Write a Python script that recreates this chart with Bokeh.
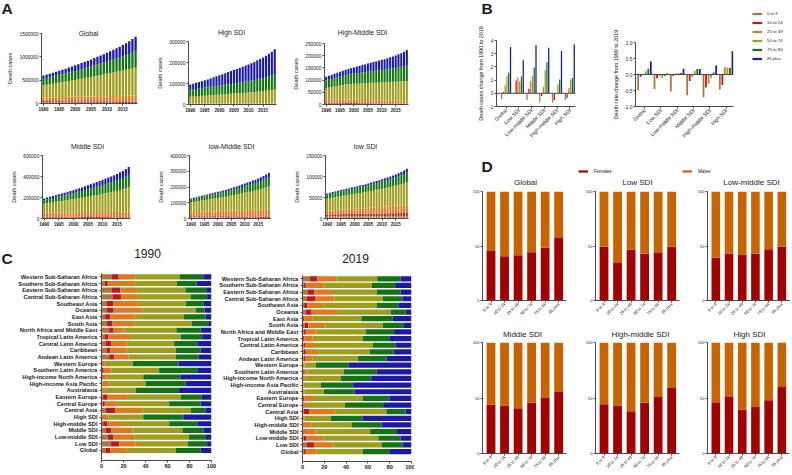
import math
from bokeh.plotting import figure
from bokeh.layouts import row, column
from bokeh.models import (ColumnDataSource, Range1d, FixedTicker, Label, Legend,
                          LegendItem, Span, NumeralTickFormatter)
from bokeh.transform import dodge
from bokeh.embed import file_html
from bokeh.resources import INLINE

FONT = "Liberation Sans"
AXC = "#4a4a4a"
TXT = "#1a1a1a"
NAN = float("nan")

# ---------------- common categories ----------------
age_groups = ["0 to 9", "10 to 24", "25 to 49", "50 to 74", "75 to 84", "85 plus"]
age_colors = ["#A8783C", "#C0161E", "#E0781E", "#9E9E1E", "#147414", "#1A1AA2"]
years = list(range(1990, 2020))
year_ticks = [1990, 1995, 2000, 2005, 2010, 2015]

# ---------------- Panel A: death cases (thousands) by age group ----------------
a_global = [
    [21, 21, 21, 20, 20, 20, 19, 19, 19, 18, 18, 18, 17, 17, 17, 16, 16, 16, 15, 15, 15, 14, 14, 14, 13, 13, 13, 12, 12, 12],
    [30, 30, 30, 30, 30, 31, 31, 31, 31, 31, 31, 31, 32, 32, 32, 32, 32, 32, 32, 32, 33, 33, 33, 33, 33, 33, 33, 33, 33, 33],
    [80, 82, 83, 85, 86, 88, 89, 91, 92, 94, 95, 97, 98, 100, 101, 103, 104, 106, 107, 109, 110, 112, 113, 115, 116, 118, 120, 122, 125, 128],
    [260, 270, 280, 290, 300, 310, 320, 330, 340, 351, 362, 373, 384, 395, 406, 418, 430, 442, 454, 466, 479, 492, 505, 518, 531, 545, 559, 573, 587, 600],
    [140, 145, 150, 155, 160, 165, 170, 175, 181, 187, 193, 199, 205, 211, 217, 224, 231, 238, 245, 252, 259, 266, 274, 282, 290, 299, 310, 323, 338, 355],
    [68, 72, 76, 80, 85, 90, 95, 100, 106, 112, 118, 124, 131, 138, 145, 152, 160, 168, 176, 184, 193, 202, 211, 221, 232, 244, 257, 271, 287, 305],
]
a_high = [
    [0.6, 0.6, 0.6, 0.6, 0.6, 0.5, 0.5, 0.5, 0.5, 0.5, 0.5, 0.5, 0.5, 0.4, 0.4, 0.4, 0.4, 0.4, 0.4, 0.4, 0.4, 0.4, 0.3, 0.3, 0.3, 0.3, 0.3, 0.3, 0.3, 0.3],
    [1.0, 1.0, 1.0, 1.0, 0.9, 0.9, 0.9, 0.9, 0.9, 0.9, 0.8, 0.8, 0.8, 0.8, 0.8, 0.8, 0.8, 0.7, 0.7, 0.7, 0.7, 0.7, 0.7, 0.7, 0.7, 0.7, 0.6, 0.6, 0.6, 0.6],
    [2.5, 2.5, 2.6, 2.6, 2.7, 2.7, 2.7, 2.8, 2.8, 2.8, 2.9, 2.9, 2.9, 3.0, 3.0, 3.0, 3.1, 3.1, 3.1, 3.2, 3.2, 3.2, 3.3, 3.3, 3.3, 3.4, 3.4, 3.4, 3.5, 3.5],
    [33, 34, 35, 36, 37, 38, 39, 40, 41, 42, 43, 44, 45, 46, 47, 48, 49, 50, 51, 52, 53, 54, 55, 57, 58, 60, 61, 63, 65, 67],
    [33, 34, 35, 36, 37, 38, 39, 40, 41, 42, 43, 44, 45, 46, 47, 48, 49, 50, 52, 53, 54, 56, 57, 59, 60, 62, 64, 66, 68, 71],
    [25, 27, 29, 31, 33, 35, 37, 40, 43, 46, 49, 52, 55, 58, 61, 64, 67, 70, 73, 76, 79, 82, 86, 90, 94, 98, 103, 108, 114, 121],
]
a_high_middle = [
    [3.2, 3.1, 3.0, 2.9, 2.8, 2.7, 2.6, 2.5, 2.4, 2.3, 2.2, 2.1, 2.0, 1.9, 1.8, 1.8, 1.7, 1.6, 1.6, 1.5, 1.5, 1.4, 1.4, 1.3, 1.3, 1.2, 1.2, 1.1, 1.1, 1.0],
    [4.5, 4.5, 4.4, 4.4, 4.3, 4.2, 4.1, 4.0, 3.9, 3.8, 3.7, 3.6, 3.5, 3.4, 3.3, 3.2, 3.1, 3.0, 2.9, 2.9, 2.8, 2.7, 2.7, 2.6, 2.6, 2.5, 2.5, 2.4, 2.4, 2.3],
    [12.0, 12.3, 12.6, 12.9, 13.1, 13.3, 13.5, 13.6, 13.7, 13.7, 13.7, 13.6, 13.5, 13.4, 13.3, 13.2, 13.0, 12.9, 12.8, 12.7, 12.6, 12.5, 12.4, 12.3, 12.2, 12.1, 12.0, 11.9, 11.9, 11.8],
    [48, 50, 52, 54, 56, 58, 60, 62, 63, 64, 65, 66, 67, 68, 69, 70, 71, 72, 72, 73, 74, 74, 75, 76, 77, 77, 78, 79, 80, 81],
    [31, 32, 33, 34, 35, 36, 37, 38, 39, 40, 41, 42, 43, 44, 45, 46, 47, 48, 49, 50, 51, 52, 53, 54, 55, 57, 58, 60, 62, 64],
    [15, 16, 17, 18, 19, 20, 21, 22, 24, 25, 26, 28, 29, 31, 32, 34, 35, 37, 38, 40, 41, 43, 45, 47, 49, 51, 54, 56, 59, 63],
]
a_middle = [
    [8.5, 8.3, 8.1, 7.9, 7.7, 7.5, 7.3, 7.1, 6.9, 6.7, 6.5, 6.3, 6.1, 5.9, 5.7, 5.5, 5.3, 5.1, 4.9, 4.7, 4.5, 4.3, 4.1, 3.9, 3.7, 3.6, 3.4, 3.3, 3.1, 3.0],
    [11.0, 11.0, 11.0, 10.9, 10.9, 10.8, 10.8, 10.7, 10.6, 10.5, 10.4, 10.3, 10.2, 10.1, 10.0, 9.9, 9.8, 9.7, 9.6, 9.5, 9.4, 9.3, 9.2, 9.1, 9.0, 9.0, 8.9, 8.9, 8.8, 8.8],
    [35, 36, 37, 38, 39, 40, 40, 41, 42, 43, 43, 44, 45, 45, 46, 46, 47, 47, 48, 48, 49, 49, 49, 50, 50, 50, 51, 51, 52, 52],
    [85, 89, 93, 97, 101, 105, 109, 113, 117, 121, 125, 129, 133, 137, 142, 147, 152, 157, 162, 167, 172, 178, 184, 190, 196, 202, 209, 216, 225, 234],
    [35, 37, 39, 41, 43, 45, 47, 49, 51, 53, 55, 57, 60, 63, 66, 69, 72, 75, 78, 81, 84, 87, 90, 93, 96, 99, 103, 107, 112, 117],
    [17, 18, 19, 20, 21, 22, 23, 24, 25, 27, 29, 31, 33, 35, 37, 39, 41, 43, 45, 47, 49, 51, 53, 55, 58, 61, 64, 67, 71, 76],
]
a_low_middle = [
    [7.5, 7.4, 7.3, 7.2, 7.1, 7.0, 6.9, 6.7, 6.5, 6.3, 6.1, 5.9, 5.7, 5.5, 5.3, 5.1, 4.9, 4.8, 4.7, 4.6, 4.5, 4.4, 4.3, 4.2, 4.1, 4.0, 3.9, 3.8, 3.7, 3.6],
    [7.0, 7.1, 7.2, 7.3, 7.4, 7.5, 7.6, 7.7, 7.8, 7.9, 8.0, 8.1, 8.2, 8.2, 8.3, 8.3, 8.4, 8.4, 8.5, 8.5, 8.6, 8.6, 8.7, 8.7, 8.8, 8.8, 8.9, 8.9, 9.0, 9.0],
    [24, 25, 26, 27, 28, 29, 30, 31, 32, 32, 33, 34, 35, 35, 36, 37, 38, 38, 39, 40, 40, 41, 41, 42, 42, 43, 43, 44, 44, 45],
    [63, 65, 67, 69, 71, 73, 75, 77, 79, 81, 83, 85, 87, 89, 92, 95, 98, 101, 104, 107, 110, 113, 116, 119, 123, 127, 131, 135, 140, 146],
    [19, 20, 21, 22, 23, 24, 25, 26, 27, 28, 29, 30, 31, 32, 33, 34, 35, 36, 38, 40, 42, 44, 45, 47, 48, 50, 52, 54, 56, 58],
    [6.3, 6.6, 6.9, 7.2, 7.5, 7.9, 8.3, 8.7, 9.1, 9.5, 10.0, 10.5, 11.0, 11.6, 12.2, 12.8, 13.5, 14.2, 15.0, 15.8, 16.7, 17.6, 18.6, 19.6, 20.7, 21.9, 23.2, 24.6, 26.2, 28.0],
]
a_low = [
    [5.0, 5.1, 5.2, 5.2, 5.3, 5.3, 5.3, 5.4, 5.4, 5.4, 5.4, 5.4, 5.4, 5.3, 5.3, 5.3, 5.3, 5.2, 5.2, 5.2, 5.2, 5.1, 5.1, 5.1, 5.1, 5.0, 5.0, 5.0, 5.0, 5.0],
    [4.6, 4.7, 4.8, 4.9, 5.0, 5.1, 5.2, 5.3, 5.4, 5.5, 5.6, 5.7, 5.8, 5.9, 6.0, 6.1, 6.3, 6.4, 6.6, 6.7, 6.9, 7.0, 7.2, 7.3, 7.5, 7.7, 7.9, 8.1, 8.3, 8.5],
    [9.0, 9.3, 9.6, 9.9, 10.2, 10.5, 10.8, 11.1, 11.4, 11.7, 12.0, 12.3, 12.6, 12.9, 13.2, 13.6, 14.0, 14.4, 14.8, 15.2, 15.6, 16.0, 16.4, 16.8, 17.2, 17.7, 18.2, 18.7, 19.3, 20.0],
    [28.5, 29.2, 29.9, 30.6, 31.3, 32.0, 32.7, 33.4, 34.1, 34.8, 35.5, 36.2, 36.9, 37.6, 38.4, 39.2, 40.0, 40.8, 41.6, 42.4, 43.3, 44.2, 45.1, 46.0, 47.0, 48.0, 49.0, 50.0, 51.5, 53.0],
    [10.2, 10.5, 10.8, 11.1, 11.4, 11.7, 12.0, 12.3, 12.6, 12.9, 13.2, 13.5, 13.8, 14.1, 14.5, 14.9, 15.3, 15.7, 16.1, 16.5, 17.0, 17.5, 18.0, 18.5, 19.0, 19.6, 20.2, 20.9, 21.9, 23.0],
    [2.5, 2.6, 2.7, 2.8, 2.9, 3.0, 3.1, 3.2, 3.3, 3.4, 3.5, 3.6, 3.8, 4.0, 4.2, 4.4, 4.6, 4.8, 5.0, 5.2, 5.5, 5.8, 6.1, 6.4, 6.7, 7.0, 7.4, 7.8, 8.4, 9.0],
]

# ---------------- Panel B ----------------
b_regions = ["Global", "Low SDI", "Low-middle SDI", "Middle SDI", "High-middle SDI", "High SDI"]
b_case_change = [
    [-0.45, 0.10, 0.60, 1.30, 1.58, 3.50],
    [0.02, 0.97, 1.20, 0.90, 1.28, 2.50],
    [-0.50, 0.35, 0.95, 1.33, 1.95, 3.65],
    [-0.65, -0.20, 0.50, 1.75, 2.35, 3.45],
    [-0.72, -0.50, -0.02, 0.68, 1.05, 3.20],
    [-0.50, -0.35, 0.42, 1.05, 1.15, 3.72],
]
b_rate_change = [
    [-0.49, -0.07, -0.02, 0.10, 0.18, 0.41],
    [-0.45, -0.12, -0.05, -0.10, -0.05, 0.03],
    [-0.53, -0.05, 0.03, 0.05, 0.05, 0.18],
    [-0.65, -0.20, -0.08, 0.12, 0.17, 0.17],
    [-0.71, -0.41, -0.29, -0.10, 0.06, 0.28],
    [-0.47, -0.33, 0.23, 0.22, 0.21, 0.73],
]

# ---------------- Panel C: share (%) of deaths by age group ----------------
c_regions = ["Western Sub-Saharan Africa", "Southern Sub-Saharan Africa", "Eastern Sub-Saharan Africa",
             "Central Sub-Saharan Africa", "Southeast Asia", "Oceania", "East Asia", "South Asia",
             "North Africa and Middle East", "Tropical Latin America", "Central Latin America", "Caribbean",
             "Andean Latin America", "Western Europe", "Southern Latin America", "High-income North America",
             "High-income Asia Pacific", "Australasia", "Eastern Europe", "Central Europe", "Central Asia",
             "High SDI", "High-middle SDI", "Middle SDI", "Low-middle SDI", "Low SDI", "Global"]
c_1990 = [
    [9.6, 6.0, 15.0, 40.4, 21.5, 7.5], [2.7, 3.0, 24.0, 38.8, 18.0, 13.5], [9.0, 8.0, 14.5, 44.8, 18.9, 4.8],
    [10.0, 8.0, 15.0, 48.0, 15.0, 4.0], [5.0, 6.0, 22.0, 43.5, 16.5, 7.0], [5.0, 6.0, 26.0, 48.5, 8.2, 6.3],
    [3.3, 4.7, 22.0, 45.0, 19.5, 5.5], [5.0, 4.6, 20.4, 52.0, 15.0, 3.0], [7.0, 4.0, 9.0, 48.0, 22.0, 10.0],
    [2.7, 3.6, 19.7, 46.0, 19.5, 8.5], [3.6, 5.1, 14.3, 43.0, 21.0, 13.0], [4.5, 3.5, 15.0, 44.5, 22.5, 10.0],
    [7.0, 4.5, 13.2, 42.8, 21.0, 11.5], [0.6, 0.6, 1.8, 25.3, 41.7, 30.0], [0.4, 1.6, 7.3, 43.1, 34.6, 13.0],
    [0.4, 0.8, 4.5, 32.3, 34.0, 28.0], [0.3, 0.5, 6.2, 33.0, 36.5, 23.5], [0.3, 0.5, 3.1, 27.1, 39.5, 29.5],
    [1.5, 3.5, 19.0, 48.0, 19.0, 9.0], [1.0, 2.0, 10.3, 48.2, 28.5, 10.0], [4.0, 8.7, 24.3, 44.0, 13.5, 5.5],
    [0.4, 0.6, 5.3, 31.7, 36.4, 25.6], [1.5, 3.5, 12.8, 43.7, 25.5, 13.0], [3.6, 5.1, 19.6, 45.2, 19.5, 7.0],
    [5.7, 5.3, 19.0, 49.5, 15.5, 5.0], [8.7, 7.6, 14.7, 47.6, 17.4, 4.0], [3.6, 4.4, 15.0, 44.5, 22.5, 10.0],
]
c_2019 = [
    [6.6, 6.9, 17.5, 37.5, 21.5, 10.0], [0.9, 2.1, 16.5, 44.1, 21.4, 15.0], [4.5, 6.5, 16.0, 41.0, 22.0, 10.0],
    [4.0, 8.0, 17.4, 44.2, 18.0, 8.4], [1.5, 3.0, 14.5, 49.0, 20.0, 12.0], [3.0, 5.4, 24.0, 48.6, 13.6, 5.4],
    [0.6, 0.9, 7.5, 45.0, 28.6, 17.4], [2.0, 3.4, 15.6, 52.6, 18.9, 7.5], [1.2, 1.8, 9.0, 46.0, 26.0, 16.0],
    [0.6, 1.2, 7.2, 46.5, 24.1, 20.4], [0.9, 1.5, 9.0, 53.1, 21.1, 14.4], [1.2, 1.8, 11.4, 47.1, 22.0, 16.5],
    [1.2, 1.2, 6.6, 42.0, 26.0, 23.0], [0.3, 0.3, 1.2, 10.2, 30.0, 58.0], [0.3, 0.9, 3.3, 33.5, 30.0, 32.0],
    [0.3, 0.7, 2.0, 32.0, 28.0, 37.0], [0.2, 0.3, 0.5, 16.0, 29.5, 53.5], [0.3, 0.3, 1.2, 17.7, 28.5, 52.0],
    [0.6, 0.9, 9.0, 44.5, 24.6, 20.4], [0.3, 0.7, 3.2, 34.8, 35.0, 26.0], [1.0, 5.0, 23.4, 47.6, 17.6, 5.4],
    [0.3, 0.3, 1.4, 24.0, 29.0, 45.0], [0.4, 0.6, 6.5, 37.5, 27.6, 27.4], [1.0, 1.0, 11.0, 49.0, 24.0, 14.0],
    [1.2, 2.4, 15.9, 50.1, 20.4, 10.0], [4.0, 6.5, 18.0, 44.1, 19.0, 8.4], [1.0, 2.0, 9.6, 42.4, 24.6, 20.4],
]

# ---------------- Panel D: female share (%) by age group ----------------
sex_labels = ["Females", "Males"]
sex_colors = ["#A30000", "#C86400"]
d_global = [45.3, 40.7, 41.6, 44.3, 48.5, 57.3]
d_low = [49.4, 34.3, 46.5, 43.0, 43.6, 49.4]
d_low_middle = [39.2, 43.0, 42.2, 43.0, 47.0, 49.4]
d_middle = [44.0, 43.0, 40.8, 46.0, 50.0, 55.4]
d_high_middle = [44.3, 43.0, 38.0, 45.8, 51.0, 59.0]
d_high = [45.5, 51.0, 39.5, 42.0, 48.0, 60.0]


# ---------------- helpers ----------------
def base_fig(w, h, left, fw, top, fh, xr, yr):
    p = figure(width=w, height=h, x_range=xr, y_range=yr, output_backend="svg",
               toolbar_location=None, min_border_left=left, min_border_right=w - left - fw,
               min_border_top=top, min_border_bottom=h - top - fh, frame_align=False)
    p.outline_line_color = None
    p.xgrid.visible = False
    p.ygrid.visible = False
    p.background_fill_color = "white"
    p.border_fill_color = "white"
    for ax in p.axis:
        ax.axis_line_color = AXC
        ax.axis_line_width = 1
        ax.major_tick_line_color = AXC
        ax.major_tick_out = 2
        ax.major_tick_in = 0
        ax.minor_tick_line_color = None
        ax.major_label_text_font = FONT
        ax.major_label_text_color = TXT
        ax.major_label_standoff = 1
        ax.axis_label_text_font = FONT
        ax.axis_label_text_font_style = "normal"
        ax.axis_label_text_color = TXT
    return p


def blank_fig(w, h, left=0, top=0):
    p = figure(width=w, height=h, x_range=Range1d(0, 1), y_range=Range1d(0, 1),
               x_axis_type=None, y_axis_type=None, output_backend="svg",
               toolbar_location=None, min_border_left=left, min_border_top=top,
               min_border_right=0, min_border_bottom=0, frame_align=False)
    p.outline_line_color = None
    p.grid.visible = False
    p.background_fill_color = "white"
    p.border_fill_color = "white"
    return p


def add_text(p, x, y, text, size, bold=False, align="center"):
    # a side-panel label in canvas pixels, so that it is not clipped to the frame
    p.add_layout(Label(x=x, y=y, x_units="canvas", y_units="canvas", text=text,
                       text_font=FONT, text_font_size=size,
                       text_font_style="bold" if bold else "normal",
                       text_align=align, text_baseline="middle", text_color=TXT), "above")


def add_legend(p, labels, colors, glyph_h, size, standoff):
    # legend proxies: one non-drawn (NaN) point each, so only the legend swatch shows
    rs = [p.line(x=[NAN], y=[NAN], line_color=c, line_width=2.2) for c in colors]
    lg = Legend(items=[LegendItem(label=a, renderers=[r]) for a, r in zip(labels, rs)],
                location="top_left", orientation="vertical", glyph_width=10, glyph_height=glyph_h,
                label_height=glyph_h, spacing=0, padding=0, margin=0, label_standoff=standoff,
                border_line_color=None, background_fill_alpha=0,
                label_text_font=FONT, label_text_font_size=size, label_text_color=TXT)
    p.add_layout(lg)


def panel_a(title, data, ymax, yticks, w, h, left, fw, top, fh, tx, ty):
    p = base_fig(w, h, left, fw, top, fh, Range1d(1989.4, 2019.6), Range1d(0, ymax))
    cols = {"year": years}
    names = []
    for i, g in enumerate(data):
        cols[f"g{i}"] = [v * 1000 for v in g]
        names.append(f"g{i}")
    src = ColumnDataSource(cols)
    p.vbar_stack(names, x="year", width=0.72, fill_color=age_colors, line_color=None, source=src)
    p.xaxis.ticker = FixedTicker(ticks=year_ticks)
    p.xaxis.major_label_text_font_size = "4.5px"
    p.xaxis.major_label_text_font_style = "bold"
    p.yaxis.ticker = FixedTicker(ticks=yticks)
    p.yaxis.formatter = NumeralTickFormatter(format="0")
    p.yaxis.major_label_text_font_size = "4.9px"
    p.yaxis.axis_label = "Death cases"
    p.yaxis.axis_label_text_font_size = "5.7px"
    p.yaxis.axis_label_standoff = 3
    add_text(p, tx, ty, title, "6.8px")
    return p


def panel_b(values, ymin, ymax, yticks, fmt, ylabel, w, h, left, fw, top, fh, xr, step, bw):
    p = base_fig(w, h, left, fw, top, fh, Range1d(*xr), Range1d(ymin, ymax))
    cols = {"x": list(range(len(b_regions)))}
    for k in range(len(age_groups)):
        cols[f"g{k}"] = [values[r][k] for r in range(len(b_regions))]
    src = ColumnDataSource(cols)
    for k in range(len(age_groups)):
        off = (k - 2.5) * step
        p.vbar(x=dodge("x", off, range=p.x_range), top=f"g{k}", bottom=0, width=bw,
               fill_color=age_colors[k], line_color=None, source=src)
    p.add_layout(Span(location=0, dimension="width", line_color=AXC, line_width=1))
    p.xaxis.ticker = FixedTicker(ticks=list(range(len(b_regions))))
    p.xaxis.major_label_overrides = {i: r for i, r in enumerate(b_regions)}
    p.xaxis.major_label_orientation = math.pi / 4
    p.xaxis.major_label_text_font_size = "5.2px"
    p.yaxis.ticker = FixedTicker(ticks=yticks)
    p.yaxis.formatter = NumeralTickFormatter(format=fmt)
    p.yaxis.major_label_text_font_size = "4.8px"
    p.yaxis.axis_label = ylabel
    p.yaxis.axis_label_text_font_size = "5.4px"
    p.yaxis.axis_label_standoff = 2
    return p


def panel_c(shares, w, h, left, fw, top, fh):
    n = len(c_regions)
    p = base_fig(w, h, left, fw, top, fh, Range1d(0, 100), Range1d(-1.5, n - 0.5))
    cols = {"y": [n - 1 - i for i in range(n)]}
    names = []
    for k in range(len(age_groups)):
        cols[f"g{k}"] = [shares[i][k] for i in range(n)]
        names.append(f"g{k}")
    src = ColumnDataSource(cols)
    p.hbar_stack(names, y="y", height=0.78, fill_color=age_colors, line_color=None, source=src)
    p.xaxis.ticker = FixedTicker(ticks=[0, 20, 40, 60, 80, 100])
    p.xaxis.major_label_text_font_size = "5.6px"
    p.xaxis.major_label_text_font_style = "bold"
    p.yaxis.ticker = FixedTicker(ticks=list(range(n)))
    p.yaxis.major_label_overrides = {n - 1 - i: r for i, r in enumerate(c_regions)}
    p.yaxis.major_label_text_font_size = "5.7px"
    p.yaxis.major_label_text_font_style = "bold"
    p.yaxis.major_label_standoff = 2
    return p


def panel_d(title, females, w, h, left, fw, top, fh, tx, ty):
    p = base_fig(w, h, left, fw, top, fh, Range1d(-0.63, 5.58), Range1d(0, 100))
    src = ColumnDataSource(dict(x=list(range(len(age_groups))), f=females,
                                m=[100 - v for v in females]))
    p.vbar_stack(["f", "m"], x="x", width=0.65, fill_color=sex_colors, line_color=None, source=src)
    p.xaxis.ticker = FixedTicker(ticks=list(range(len(age_groups))))
    p.xaxis.major_label_overrides = {i: a for i, a in enumerate(age_groups)}
    p.xaxis.major_label_orientation = math.pi / 4
    p.xaxis.major_label_text_font_size = "4.2px"
    p.yaxis.ticker = FixedTicker(ticks=[0, 50, 100])
    p.yaxis.major_label_text_font_size = "4px"
    add_text(p, tx, ty, title, "8px")
    return p


# ---------------- Panel A ----------------
pa1 = panel_a("Global", a_global, 1500000, [0, 500000, 1000000, 1500000], 150, 128, 41, 96, 33, 70, 88, 33)
pa2 = panel_a("High SDI", a_high, 300000, [0, 100000, 200000, 300000], 140, 128, 38, 88, 41, 63, 81, 32)
pa3 = panel_a("High-Middle SDI", a_high_middle, 250000, [0, 50000, 100000, 150000, 200000, 250000], 124, 128, 33, 85, 43, 61, 72, 32)
pa4 = panel_a("Middle SDI", a_middle, 600000, [0, 200000, 400000, 600000], 150, 107, 42, 88, 27, 63, 87, 18)
pa5 = panel_a("low-Middle SDI", a_low_middle, 400000, [0, 100000, 200000, 300000, 400000], 140, 107, 39, 81, 27, 63, 81, 18)
pa6 = panel_a("low SDI", a_low, 150000, [0, 50000, 100000, 150000], 124, 107, 35, 83, 27, 63, 75, 18)
add_text(pa1, 6.5, 8, "A", "15.5px", bold=True)

# ---------------- Panel C ----------------
pc1 = panel_c(c_1990, 216, 238, 101, 110, 38, 187)
pc2 = panel_c(c_2019, 198, 238, 84, 111, 40, 186)
add_text(pc1, 6.5, 22.5, "C", "15.5px", bold=True)
add_text(pc1, 147, 18, "1990", "12px")
add_text(pc2, 139, 23, "2019", "12px")

# ---------------- Panel B ----------------
pb1 = panel_b(b_case_change, -1, 4, [-1, 0, 1, 2, 3, 4], "0", "Death cases change from 1990 to 2019",
              186, 157, 82, 79, 40, 66, (-0.75, 5.45), 0.14, 0.1)
pb2 = panel_b(b_rate_change, -1, 1, [-1.0, -0.5, 0.0, 0.5, 1.0], "0.0", "Death rate change from 1990 to 2019",
              135, 157, 35, 98, 42, 64, (-0.55, 5.45), 0.155, 0.11)
add_text(pb1, 72.5, 7.5, "B", "15.5px", bold=True)
pbl = blank_fig(55, 157, left=17, top=9)
add_legend(pbl, age_groups, age_colors, 9, "4.3px", 5)

# ---------------- Panel D ----------------
pds1 = blank_fig(164, 19, top=18)
add_text(pds1, 72.5, 8.5, "D", "15.5px", bold=True)
pds2 = blank_fig(104, 19, top=10)
add_legend(pds2, sex_labels[:1], sex_colors[:1], 8, "4.6px", 6)
pds3 = blank_fig(108, 19, top=10)
add_legend(pds3, sex_labels[1:], sex_colors[1:], 8, "4.6px", 6)

pd1 = panel_d("Global", d_global, 162, 144, 68, 84, 15, 113, 111, 5.7)
pd2 = panel_d("Low SDI", d_low, 104, 144, 19, 84, 15, 113, 61, 5.7)
pd3 = panel_d("Low-middle SDI", d_low_middle, 110, 144, 27, 82, 15, 113, 71, 5.7)
pd4 = panel_d("Middle SDI", d_middle, 162, 153, 68, 84, 22, 114, 108, 14)
pd5 = panel_d("High-middle SDI", d_high_middle, 104, 153, 19, 84, 22, 114, 64, 14)
pd6 = panel_d("High SDI", d_high, 110, 153, 27, 82, 22, 114, 69, 14)

left = column(row(pa1, pa2, pa3), row(pa4, pa5, pa6), row(pc1, pc2))
right = column(row(pb1, pb2, pbl), row(pds1, pds2, pds3), row(pd1, pd2, pd3), row(pd4, pd5, pd6))
root = row(left, right)

open("out.html", "w").write(file_html(root, INLINE))
